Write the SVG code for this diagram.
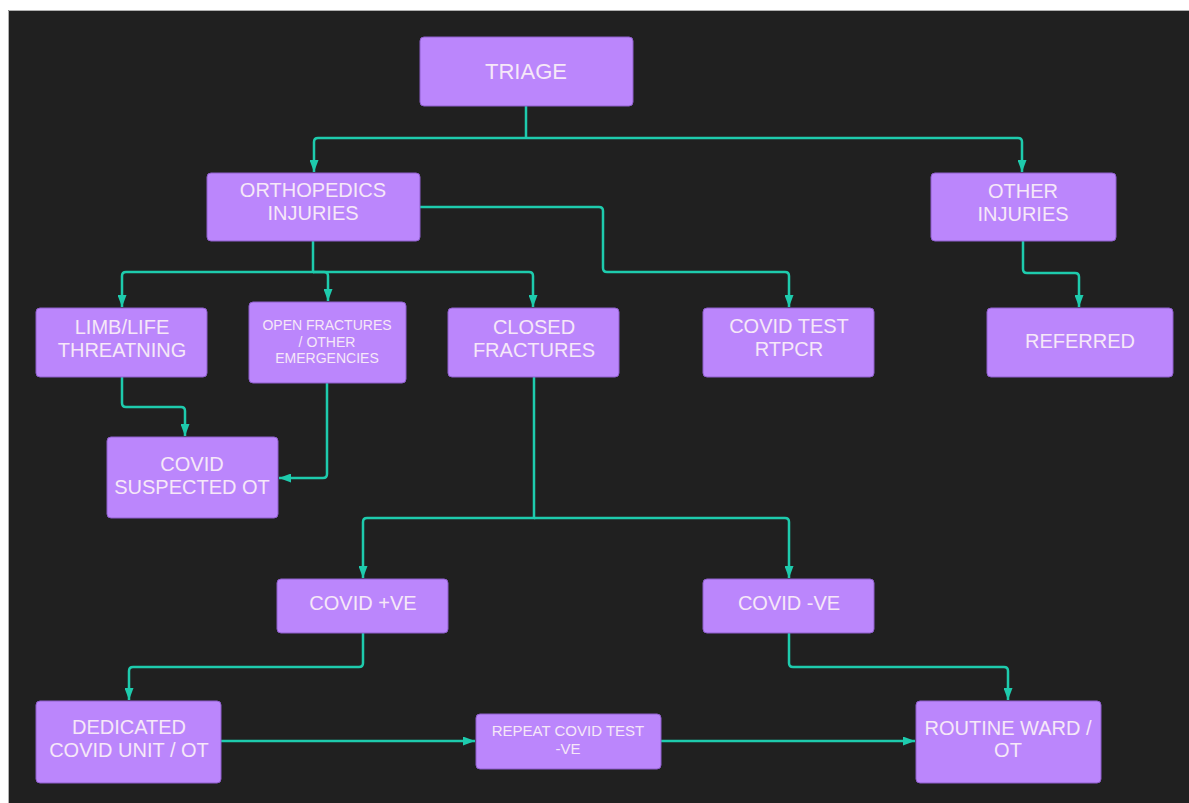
<svg xmlns="http://www.w3.org/2000/svg" width="1189" height="803" viewBox="0 0 1189 803">
<defs>
<style>
.node rect{fill:#bb86fc;stroke:#8e5fcc;stroke-width:1}
.node text{font-family:"Liberation Sans",Arial,sans-serif;fill:#f6e8f8;text-anchor:middle;dominant-baseline:central;font-size:20px}
.node text.sm{font-size:14px}
.node text.md{font-size:15px}
.conn path{fill:none;stroke:#1ecbad;stroke-width:2.5}
</style>
<marker id="arr" viewBox="0 0 12 9" refX="12" refY="4.5" markerWidth="12" markerHeight="9" markerUnits="userSpaceOnUse" orient="auto">
<path d="M0,0 L12,4.5 L0,9 z" fill="#1ecbad"/>
</marker>
</defs>
<rect x="0" y="0" width="1189" height="803" fill="#ffffff"/>
<rect x="8" y="10" width="1181" height="793" fill="#202020"/>
<path d="M8.5,803 V10.5 H1189" fill="none" stroke="#b0b0b0" stroke-width="1"/>

<g class="conn">
<path d="M526,106 V138"/>
<path d="M526,138 H318 Q314,138 314,142 V172" marker-end="url(#arr)"/>
<path d="M526,138 H1018 Q1022,138 1022,142 V172" marker-end="url(#arr)"/>
<path d="M420,207 H599 Q603,207 603,211 V268 Q603,272 607,272 H785 Q789,272 789,276 V307" marker-end="url(#arr)"/>
<path d="M313,241 V272 H126 Q122,272 122,276 V307" marker-end="url(#arr)"/>
<path d="M313,272 H324 Q328,272 328,276 V301" marker-end="url(#arr)"/>
<path d="M313,272 H529 Q533,272 533,276 V307" marker-end="url(#arr)"/>
<path d="M122,377 V403 Q122,407 126,407 H181 Q185,407 185,411 V436" marker-end="url(#arr)"/>
<path d="M327,383 V474 Q327,478 323,478 H279" marker-end="url(#arr)"/>
<path d="M1023,241 V269 Q1023,273 1027,273 H1075 Q1079,273 1079,277 V307" marker-end="url(#arr)"/>
<path d="M534,377 V518 H367 Q363,518 363,522 V578" marker-end="url(#arr)"/>
<path d="M534,518 H785 Q789,518 789,522 V578" marker-end="url(#arr)"/>
<path d="M363,633 V663 Q363,667 359,667 H133 Q129,667 129,671 V700" marker-end="url(#arr)"/>
<path d="M789,633 V663 Q789,667 793,667 H1004 Q1008,667 1008,671 V700" marker-end="url(#arr)"/>
<path d="M221,741 H475" marker-end="url(#arr)"/>
<path d="M661,741 H915" marker-end="url(#arr)"/>
</g>

<g id="triage" class="node"><rect x="420" y="37" width="213" height="69" rx="4"/><text x="526" y="71" style="font-size:22px">TRIAGE</text></g>
<g id="ortho" class="node"><rect x="207" y="173" width="213" height="68" rx="4"/><text x="313" y="190">ORTHOPEDICS</text><text x="313" y="213">INJURIES</text></g>
<g id="other" class="node"><rect x="931" y="173" width="185" height="68" rx="4"/><text x="1023" y="191">OTHER</text><text x="1023" y="214">INJURIES</text></g>
<g id="limb" class="node"><rect x="36" y="308" width="171" height="69" rx="4"/><text x="122" y="327">LIMB/LIFE</text><text x="122" y="350">THREATNING</text></g>
<g id="open" class="node"><rect x="249" y="302" width="157" height="81" rx="4"/><text class="sm" x="327" y="325">OPEN FRACTURES</text><text class="sm" x="327" y="342">/ OTHER</text><text class="sm" x="327" y="358">EMERGENCIES</text></g>
<g id="closed" class="node"><rect x="448" y="308" width="171" height="69" rx="4"/><text x="534" y="327">CLOSED</text><text x="534" y="350">FRACTURES</text></g>
<g id="covidtest" class="node"><rect x="703" y="308" width="171" height="69" rx="4"/><text x="789" y="326">COVID TEST</text><text x="789" y="349">RTPCR</text></g>
<g id="referred" class="node"><rect x="987" y="308" width="186" height="69" rx="4"/><text x="1080" y="341">REFERRED</text></g>
<g id="suspected" class="node"><rect x="107" y="437" width="171" height="81" rx="4"/><text x="192" y="464">COVID</text><text x="192" y="487">SUSPECTED OT</text></g>
<g id="covidpos" class="node"><rect x="277" y="579" width="171" height="54" rx="4"/><text x="363" y="603">COVID +VE</text></g>
<g id="covidneg" class="node"><rect x="703" y="579" width="171" height="54" rx="4"/><text x="789" y="603">COVID -VE</text></g>
<g id="dedicated" class="node"><rect x="36" y="701" width="185" height="82" rx="4"/><text x="129" y="727">DEDICATED</text><text x="129" y="750">COVID UNIT / OT</text></g>
<g id="repeat" class="node"><rect x="476" y="714" width="185" height="55" rx="4"/><text class="md" x="568" y="730">REPEAT COVID TEST</text><text class="md" x="568" y="748">-VE</text></g>
<g id="routine" class="node"><rect x="916" y="701" width="185" height="82" rx="4"/><text x="1008" y="728">ROUTINE WARD /</text><text x="1008" y="750">OT</text></g>
</svg>
